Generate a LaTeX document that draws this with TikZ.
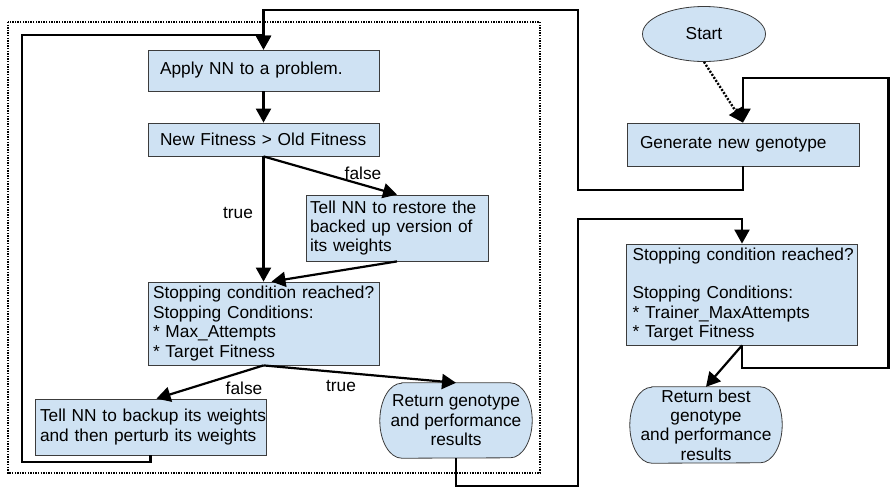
\documentclass[tikz,border=0pt]{standalone}
\usepackage{fontspec}
\setmainfont{Liberation Sans}
\usetikzlibrary{arrows.meta,shapes.geometric,backgrounds}
\definecolor{boxfill}{HTML}{CFE2F3}
\definecolor{edge}{HTML}{3C3C3C}

% outline of a terminal shape: flat top and bottom, elliptic sides
\newcommand\termpath[2]{%
  \path[termline] ([xshift=22pt]#1.north west) -- ([xshift=-22pt]#1.north east)
    arc[start angle=90, end angle=-90, x radius=22pt, y radius=#2]
    -- ([xshift=22pt]#1.south west)
    arc[start angle=270, end angle=90, x radius=22pt, y radius=#2] -- cycle;}

\begin{document}
\begin{tikzpicture}[x=1pt, y=-1pt,
  font=\fontsize{17.3}{19.4}\selectfont,
  box/.style={draw=edge, line width=0.8pt, fill=boxfill, rectangle,
    align=left, inner ysep=0pt},
  term/.style={rectangle, inner sep=0pt, align=center, minimum width=152pt},
  termline/.style={draw=edge, line width=0.8pt, fill=boxfill},
  conn/.style={line width=2.2pt, -{Triangle[length=14pt,width=15pt]}},
  dotconn/.style={conn, dash pattern=on 2pt off 1.6pt, line width=2.4pt},
  frame/.style={line width=2pt, dash pattern=on 1.4pt off 1.2pt},
  lbl/.style={inner sep=0pt}]

\useasboundingbox (0,0) rectangle (890,488);

% dotted frame round the inner training loop
\draw[frame] (8,22) rectangle (540,473);

% inner loop
\node[box, text width=207pt, inner xsep=12pt, minimum height=41pt] (apply) at (263.5,70.5)
  {Apply NN to a problem.};
\node[box, text width=207pt, inner xsep=12pt, minimum height=33pt] (newfit) at (263.5,139.5)
  {New Fitness > Old Fitness};
\node[box, text width=174pt, inner xsep=4pt, minimum height=66pt] (restore) at (397,228)
  {\mbox{Tell NN to restore the}\\\mbox{backed up version of}\\its weights};
\node[box, text width=221pt, inner xsep=5pt, minimum height=83pt] (stopL) at (263.5,323.5)
  {\mbox{Stopping condition reached?}\\\mbox{Stopping Conditions:}\\{*} Max\_Attempts\\{*} Target Fitness};
\node[box, text width=221pt, inner xsep=5pt, minimum height=56pt] (backup) at (150.5,427)
  {\mbox{Tell NN to backup its weights}\\\mbox{and then perturb its weights}};
\node[term, minimum height=75pt] (retL) at (456,420.5)
  {Return genotype\\and performance\\results};

% outer loop
\node[ellipse, draw=edge, line width=0.8pt, fill=boxfill, minimum width=123pt,
  minimum height=55pt, inner sep=0pt] (start) at (704,34) {Start};
\node[box, text width=206pt, inner xsep=13pt, minimum height=43pt] (gen) at (743,144.5)
  {Generate new genotype};
\node[box, text width=219pt, inner xsep=6pt, minimum height=101pt] (stopR) at (742,294.5)
  {\mbox{Stopping condition reached?}\\\mbox{}\\\mbox{Stopping Conditions:}\\{*} Trainer\_MaxAttempts\\{*} Target Fitness};
\node[term, minimum height=76pt] (retR) at (706,425)
  {Return best\\genotype\\and performance\\results};

\begin{scope}[on background layer]
  \termpath{retL}{37.5pt}
  \termpath{retR}{38pt}
\end{scope}

% branch labels
\node[lbl] (tTrue1) at (238,213) {true};
\node[lbl] (tFalse1) at (363,173) {false};
\node[lbl] (tFalse2) at (244,388) {false};
\node[lbl] (tTrue2) at (341,386) {true};

% bend points of the long wires
\coordinate (lpA) at (22,462);
\coordinate (lpB) at (22,35);
\coordinate (rtA) at (578,486);
\coordinate (rtB) at (578,219);
\coordinate (gnA) at (578,190);
\coordinate (gnB) at (578,10);
\coordinate (srA) at (888.5,368);
\coordinate (srB) at (888.5,78);

% inner loop connectors
\draw[conn] (apply.south) -- (newfit.north);
\draw[conn] (newfit.south) -- (stopL.north);
\draw[conn] (newfit.south) -- (restore.north);
\draw[conn] (restore.south) -- ([xshift=8pt]stopL.north);
\draw[conn] (stopL.south) -- ([xshift=6pt]backup.north);
\draw[conn] (stopL.south) -- (retL.north);
\draw[conn] (backup.south) |- (lpA) -- (lpB) -| (apply.north);

% outer loop connectors
\draw[dotconn] (start.south) -- (gen.north);
\draw[conn] (gen.south) |- (gnA) -- (gnB) -| (apply.north);
\draw[conn] (retL.south) |- (rtA) -- (rtB) -| (stopR.north);
\draw[conn] (stopR.south) |- (srA) -- (srB) -| (gen.north);
\draw[conn] (stopR.south) -- (retR.north);

\end{tikzpicture}
\end{document}
